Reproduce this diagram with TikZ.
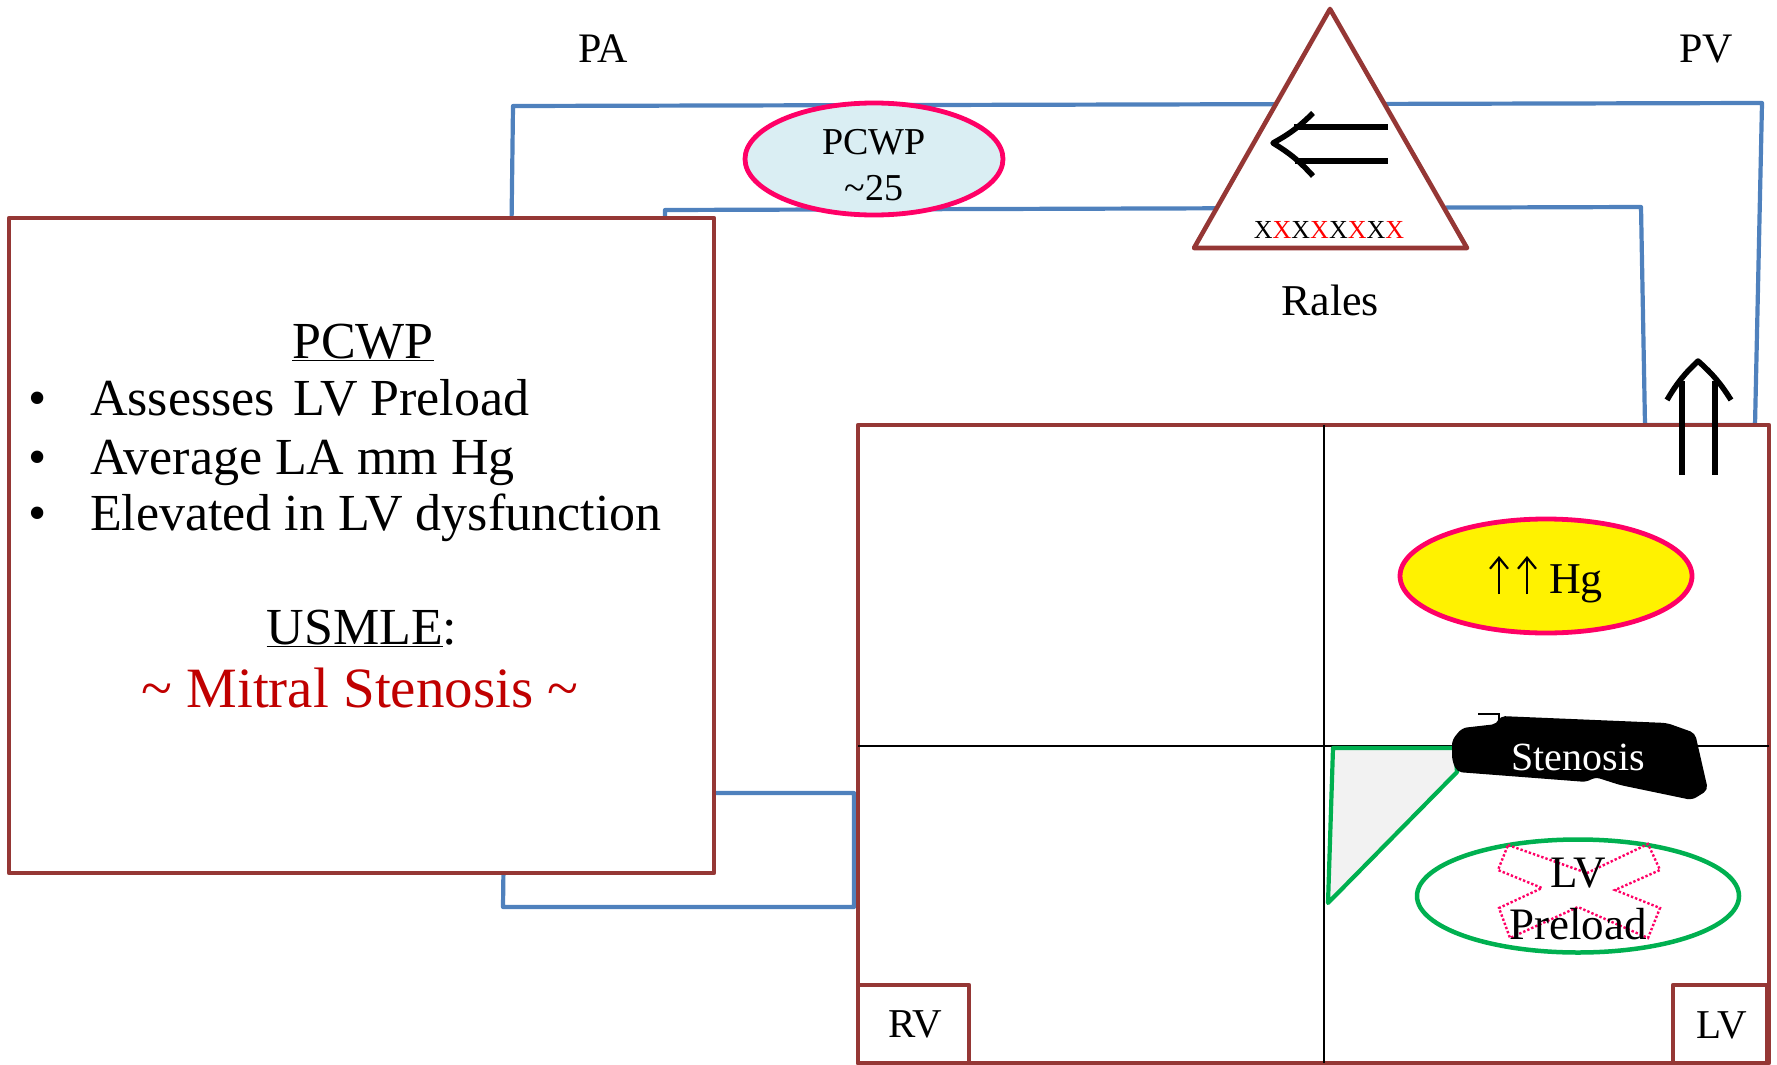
\documentclass[tikz,border=0pt]{standalone}
\usepackage{fontspec}
\setmainfont{Liberation Serif}
\usetikzlibrary{shapes.geometric,arrows.meta}
\definecolor{brn}{RGB}{149,55,53}
\definecolor{blu}{RGB}{79,129,189}
\definecolor{pnk}{RGB}{255,0,102}
\definecolor{lblu}{RGB}{218,238,243}
\definecolor{grn}{RGB}{0,176,80}
\definecolor{dred}{RGB}{192,0,0}
\definecolor{lgry}{RGB}{242,242,242}
\newcommand{\fs}[1]{\fontsize{#1}{1.2\dimexpr#1pt\relax}\selectfont}
\tikzset{
  brbox/.style={draw=brn,line width=4.6pt,line join=round},
  blueline/.style={draw=blu,line width=4.2pt,line join=round},
  txt/.style={inner sep=0pt,outer sep=0pt,text=black},
  pinkell/.style={ellipse,draw=pnk,line width=4.8pt,inner sep=0pt},
  bigarrow/.style={draw=black,line width=5.5pt,line cap=butt,line join=miter},
  smallup/.style={draw=black,line width=2.2pt,-{Straight Barb[length=11pt,width=18pt,line width=2.2pt]}},
}
\begin{document}
\begin{tikzpicture}[x=1pt,y=-1pt]
\useasboundingbox (0,0) rectangle (1777,1065);
% blue pulmonary loop
\coordinate (b1) at (714,793);
\coordinate (b2) at (854,793);
\coordinate (b3) at (854,907);
\coordinate (b4) at (503,907);
\coordinate (b5) at (513,106);
\coordinate (b6) at (1762,103);
\coordinate (b7) at (1755,425);
\coordinate (b8) at (1645,425);
\coordinate (b9) at (1641,207);
\coordinate (b10) at (665,210);
\coordinate (b11) at (665,225);
\draw[blueline] (b1) -- (b2) -- (b3) -- (b4) -- (b5) -- (b6) -- (b7) -- (b8) -- (b9) -- (b10) -- (b11);
% left box
\draw[brbox,fill=white] (9,218) rectangle (714,873);
\node[txt,anchor=base] (t0) at (363,358) {\fs{52}\underline{PCWP}};
\node[txt,anchor=base] (bl1) at (38,415) {\fs{52}\textbullet};
\node[txt,anchor=base] (bl2) at (38,474) {\fs{52}\textbullet};
\node[txt,anchor=base] (bl3) at (38,530) {\fs{52}\textbullet};
\node[txt,anchor=base west] (t1) at (90,415) {\fs{52}Assesses\hspace{0.1em} LV Preload};
\node[txt,anchor=base west] (t2) at (90,474) {\fs{52}Average LA mm Hg};
\node[txt,anchor=base west] (t3) at (90,530) {\fs{52}Elevated in LV dysfunction};
\node[txt,anchor=base] (t4) at (362,644) {\fs{52}\underline{USMLE}:};
\node[txt,anchor=base,text=dred] (t5) at (360,707) {\fs{57}\textasciitilde{} Mitral Stenosis \textasciitilde};
% main box
\draw[brbox,fill=white] (858,425) rectangle (1769,1063);
\draw[black,line width=2pt] (1324,425) -- (1324,1063);
\draw[black,line width=2pt] (858,746) -- (1769,746);
\draw[brbox,fill=white] (858,985) rectangle (969,1063);
\node[txt] (rv) at (915,1024) {\fs{41}RV};
\draw[brbox,fill=white] (1673,985) rectangle (1767,1063);
\node[txt] (lv) at (1722,1025) {\fs{41}LV};
% triangle (lungs)
\draw[brbox,fill=white] (1330,9) -- (1467,248) -- (1194,248) -- cycle;
\coordinate (la1) at (1313,113);
\coordinate (la2) at (1273,143);
\coordinate (la3) at (1313,176);
\draw[bigarrow,line join=round] (la1) to[bend left=8] (la2) to[bend left=8] (la3);
\draw[bigarrow] (1294,127) -- (1388,127);
\draw[bigarrow] (1295,161) -- (1388,161);
\node[txt] (xs) at (1329,230) {\fs{26}X\textcolor{red}{X}X\textcolor{red}{X}X\textcolor{red}{X}X\textcolor{red}{X}};
\node[txt] (rales) at (1330,300) {\fs{44}Rales};
% labels
\node[txt,anchor=base] (pa) at (603,63) {\fs{42}PA};
\node[txt,anchor=base] (pv) at (1706,63) {\fs{42}PV};
% up double arrow
\coordinate (ua1) at (1667,400);
\coordinate (ua2) at (1698,361);
\coordinate (ua3) at (1731,400);
\draw[bigarrow,line join=round] (ua1) to[bend left=8] (ua2) to[bend left=8] (ua3);
\draw[bigarrow] (1682,381) -- (1682,475);
\draw[bigarrow] (1715,381) -- (1715,475);
% PCWP ellipse
\node[pinkell,fill=lblu,minimum width=258pt,minimum height=112pt] (pcwp) at (874,159) {};
\node[txt,align=center,font=\fs{38}] (pcwpt) at (874,165) {PCWP\\[0pt]\textasciitilde25};
% Hg ellipse
\node[pinkell,fill=yellow,minimum width=292pt,minimum height=114pt] (hg) at (1546,576) {};
\node[txt,anchor=base west] (hgt) at (1549,593) {\fs{44}Hg};
\coordinate (u1a) at (1499,594);
\coordinate (u1b) at (1499,556);
\coordinate (u2a) at (1527,594);
\coordinate (u2b) at (1527,556);
\draw[smallup] (u1a) -- (u1b);
\draw[smallup] (u2a) -- (u2b);
% green region
\draw[draw=grn,fill=lgry,line width=4.2pt,line join=round] (1333,748) -- (1455,748) -- (1457,772) -- (1328,903) -- cycle;
% stenosis blob
\fill[black,rounded corners=5pt] (1500,716) -- (1667,723) -- (1695,733) -- (1708,790) -- (1692,800) -- (1620,785) -- (1595,777) -- (1587,782) -- (1457,772) -- (1452,760) -- (1452,740) -- (1462,728) -- (1497,724) -- cycle;
\draw[black,line width=2.5pt] (1478,714) -- (1499,714) -- (1499,726);
\node[txt,text=white] (sten) at (1578,757) {\fs{40}Stenosis};
% LV preload ellipse with crossed-out mark
\node[ellipse,draw=grn,line width=4.5pt,minimum width=322pt,minimum height=113pt,inner sep=0pt] (lvp) at (1578,896) {};
\draw[pnk,line width=2.4pt,dotted] (1508,845) -- (1587,873) -- (1648,844) -- (1660,870) -- (1615,890) -- (1660,908) -- (1648,938) -- (1578,907) -- (1510,938) -- (1499,908) -- (1542,888) -- (1498,870) -- cycle;
\node[txt,align=center,font=\fs{45}] (lvpt) at (1578,899) {LV\\[-2pt]Preload};
\end{tikzpicture}
\end{document}
